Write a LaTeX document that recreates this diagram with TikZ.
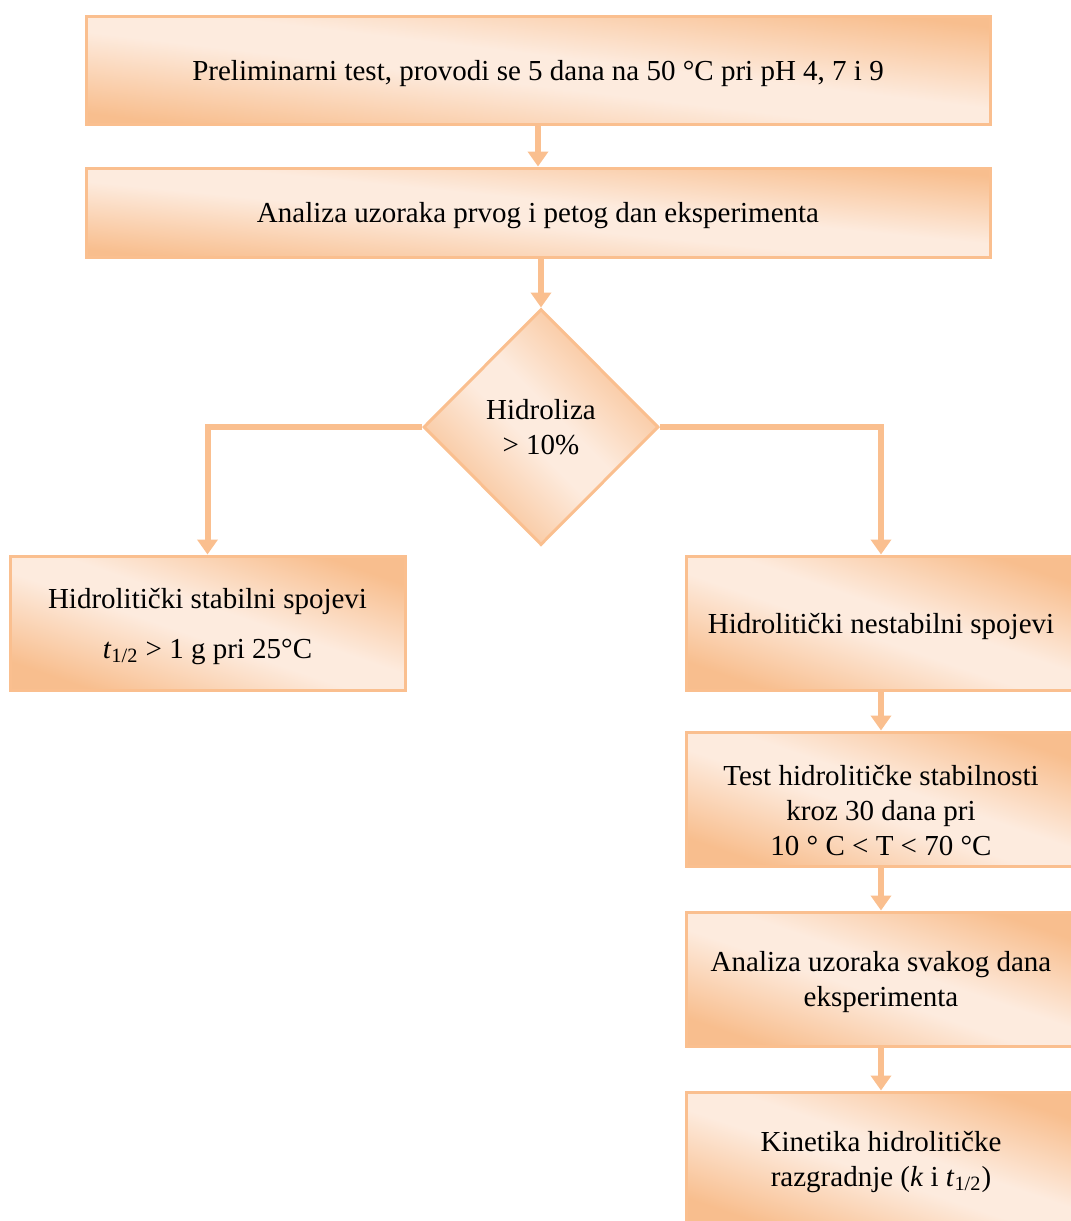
\documentclass[tikz,border=0pt]{standalone}
\usepackage{fontspec}
\setmainfont{Liberation Serif}
\usetikzlibrary{shapes.geometric,arrows.meta}

\definecolor{peachline}{HTML}{FABF8F}
\definecolor{peachdark}{HTML}{F8BE8E}
\definecolor{peachlight}{HTML}{FDEBDE}
\pgfdeclarehorizontalshading{peachfill}{100bp}{color(0bp)=(peachdark); color(25bp)=(peachdark); color(46bp)=(peachlight); color(54bp)=(peachlight); color(75bp)=(peachdark); color(100bp)=(peachdark)}

\begin{document}
\begin{tikzpicture}[x=0.5pt,y=-0.5pt,
    font=\fontsize{14.5}{17.5}\selectfont,
    box/.style={draw=peachline, line width=1.5pt, shading=peachfill, shading angle=#1,
      inner sep=0pt, align=center, text depth=0pt},
    box/.default=71,
    wide/.style={box=#1, minimum width=452pt},
    side/.style={box, minimum width=195pt, minimum height=67pt},
    choice/.style={box=45, diamond, minimum width=117.5pt, minimum height=118pt},
    arr/.style={color=peachline, line width=3pt, -{Triangle[width=10pt,length=7.5pt]}}]
      \useasboundingbox (0,0) rectangle (1071,1221);

      % Main column
      \node[wide=83.2, minimum height=54pt] (pre) at (538,70)
        {Preliminarni test, provodi se 5 dana na 50 °C pri pH 4, 7 i 9};
      \node[wide=84.4, minimum height=44.5pt] (ana) at (538,212.5)
        {Analiza uzoraka prvog i petog dan eksperimenta};
      \node[choice] (dec) at (541,427) {Hidroliza\\> 10\%};

      % Left branch
      \node[box, minimum width=197.5pt, minimum height=67pt] (stab) at (207.5,623)
        {Hidrolitički stabilni spojevi\\[7.5pt] \textit{t}\textsubscript{1/2} > 1 g pri 25°C};

      % Right branch
      \node[side] (unst) at (881,623) {Hidrolitički nestabilni spojevi};
      \node[side] (test) at (881,799) {};
      \node[align=center] (testtxt) at ([yshift=-6pt]test.center)
        {Test hidrolitičke stabilnosti\\kroz 30 dana pri\\10 ° C < T < 70 °C};
      \node[side] (ansv) at (881,979) {Analiza uzoraka svakog dana\\eksperimenta};
      \node[side] (kin) at (881,1159)
        {Kinetika hidrolitičke\\razgradnje (\textit{k} i \textit{t}\textsubscript{1/2})};

      % Arrows
      \draw[arr] (pre) -- (ana);
      \draw[arr] (dec.north |- ana.south) -- (dec.north);
      \draw[arr] (dec.west) -| (stab.north);
      \draw[arr] (dec.east) -| (unst.north);
      \foreach \a/\b in {unst/test, test/ansv, ansv/kin}
      \draw[arr] (\a) -- (\b);
    \end{tikzpicture}
\end{document}
